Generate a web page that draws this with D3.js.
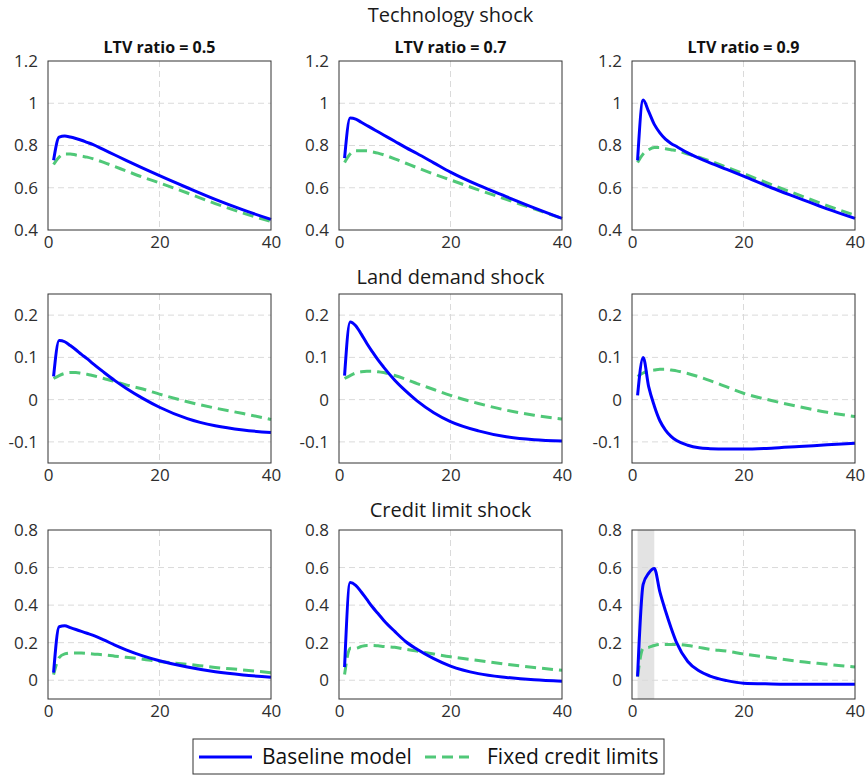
<!DOCTYPE html>
<meta charset="utf-8">
<head>
  <title>Impulse responses by LTV ratio</title>
</head>
<style>
  body {
    margin: 0;
    background: #fff;
    font-family: "Open Sans", sans-serif;
  }
  .grid line {
    stroke: #dadada;
    stroke-width: 1px;
    stroke-dasharray: 6,4;
  }
  .tick text {
    fill: #2e2e2e;
    font-size: 17px;
    font-family: "Open Sans", sans-serif;
  }
  .frame {
    fill: none;
    stroke: #333;
    stroke-width: 1px;
  }
  .base {
    fill: none;
    stroke: #0000ff;
    stroke-width: 3px;
  }
  .fixed {
    fill: none;
    stroke: #50c878;
    stroke-width: 3px;
    stroke-dasharray: 11,6;
  }
</style>
<body>
<script src="https://cdn.jsdelivr.net/npm/d3@7"></script>
<script>
var periods = [1, 2, 3, 4, 5, 6, 7, 8, 10, 12, 14, 17, 20, 25, 30, 35, 40];

var shocks = ["Technology shock", "Land demand shock", "Credit limit shock"];
var ltvLabels = ["LTV ratio = 0.5", "LTV ratio = 0.7", "LTV ratio = 0.9"];

// y ticks per row
var yTicksTech = [0.4, 0.6, 0.8, 1, 1.2];
var yTicksLand = [-0.1, 0, 0.1, 0.2];
var yTicksCredit = [0, 0.2, 0.4, 0.6, 0.8];
var xTicks = [0, 20, 40];

// technology shock
var techBase05  = [0.73, 0.84, 0.845, 0.84, 0.833, 0.825, 0.815, 0.805, 0.78, 0.755, 0.73, 0.693, 0.657, 0.60, 0.545, 0.495, 0.45];
var techFixed05 = [0.71, 0.745, 0.76, 0.76, 0.755, 0.75, 0.745, 0.738, 0.72, 0.70, 0.68, 0.65, 0.623, 0.575, 0.525, 0.48, 0.44];
var techBase07  = [0.74, 0.93, 0.925, 0.91, 0.895, 0.88, 0.865, 0.85, 0.82, 0.79, 0.762, 0.718, 0.674, 0.612, 0.558, 0.505, 0.455];
var techFixed07 = [0.72, 0.76, 0.775, 0.775, 0.775, 0.77, 0.764, 0.756, 0.737, 0.716, 0.695, 0.665, 0.637, 0.59, 0.545, 0.50, 0.455];
var techBase09  = [0.73, 1.015, 0.96, 0.90, 0.86, 0.83, 0.81, 0.795, 0.765, 0.74, 0.718, 0.687, 0.655, 0.60, 0.55, 0.50, 0.455];
var techFixed09 = [0.72, 0.76, 0.78, 0.79, 0.79, 0.785, 0.78, 0.775, 0.76, 0.745, 0.727, 0.697, 0.667, 0.615, 0.565, 0.515, 0.47];

// land demand shock
var landBase05  = [0.055, 0.14, 0.137, 0.128, 0.118, 0.107, 0.097, 0.086, 0.065, 0.045, 0.027, 0.003, -0.018, -0.045, -0.062, -0.072, -0.078];
var landFixed05 = [0.05, 0.057, 0.062, 0.064, 0.064, 0.062, 0.06, 0.057, 0.05, 0.043, 0.035, 0.025, 0.013, -0.005, -0.02, -0.033, -0.047];
var landBase07  = [0.057, 0.184, 0.175, 0.155, 0.133, 0.113, 0.094, 0.077, 0.046, 0.02, -0.003, -0.031, -0.052, -0.074, -0.088, -0.095, -0.098];
var landFixed07 = [0.05, 0.057, 0.063, 0.066, 0.067, 0.067, 0.066, 0.064, 0.057, 0.048, 0.038, 0.024, 0.01, -0.009, -0.025, -0.037, -0.046];
var landBase09  = [0.01, 0.10, 0.03, -0.015, -0.05, -0.072, -0.087, -0.097, -0.108, -0.114, -0.116, -0.117, -0.117, -0.115, -0.111, -0.107, -0.103];
var landFixed09 = [0.055, 0.063, 0.068, 0.07, 0.072, 0.072, 0.07, 0.068, 0.062, 0.054, 0.045, 0.03, 0.015, -0.002, -0.017, -0.03, -0.04];

// credit limit shock
var credBase05  = [0.04, 0.285, 0.29, 0.28, 0.27, 0.26, 0.25, 0.24, 0.215, 0.187, 0.162, 0.13, 0.104, 0.07, 0.045, 0.028, 0.016];
var credFixed05 = [0.03, 0.12, 0.14, 0.145, 0.145, 0.145, 0.143, 0.14, 0.135, 0.128, 0.122, 0.112, 0.10, 0.085, 0.068, 0.055, 0.04];
var credBase07  = [0.07, 0.52, 0.505, 0.47, 0.43, 0.39, 0.355, 0.32, 0.26, 0.205, 0.165, 0.115, 0.075, 0.035, 0.015, 0.002, -0.005];
var credFixed07 = [0.03, 0.17, 0.17, 0.18, 0.185, 0.185, 0.183, 0.18, 0.175, 0.165, 0.155, 0.14, 0.125, 0.105, 0.085, 0.068, 0.053];
var credBase09  = [0.02, 0.51, 0.57, 0.595, 0.47, 0.37, 0.28, 0.20, 0.10, 0.05, 0.022, -0.002, -0.016, -0.02, -0.022, -0.022, -0.022];
var credFixed09 = [0.02, 0.17, 0.175, 0.185, 0.19, 0.19, 0.19, 0.19, 0.185, 0.175, 0.165, 0.155, 0.14, 0.12, 0.10, 0.085, 0.07];

// shaded window in the last panel (periods)
var shadeWindow = [1, 4];

var rows = [
  {domain: [0.4, 1.2], ticks: yTicksTech, base: [techBase05, techBase07, techBase09], fixed: [techFixed05, techFixed07, techFixed09]},
  {domain: [-0.15, 0.25], ticks: yTicksLand, base: [landBase05, landBase07, landBase09], fixed: [landFixed05, landFixed07, landFixed09]},
  {domain: [-0.1, 0.8], ticks: yTicksCredit, base: [credBase05, credBase07, credBase09], fixed: [credFixed05, credFixed07, credFixed09]}
];

var colX = [48, 339, 632],
    rowY = [61, 294, 530],
    titleGap = [39, 10, 13],
    pw = 223,
    ph = 169;

var svg = d3.select("body").append("svg")
    .attr("width", 866)
    .attr("height", 776);

var fmt = function(d) { return String(+d.toFixed(2)); };

rows.forEach(function(row, r) {
  // row title over the middle column
  svg.append("text")
      .attr("x", colX[1] + pw / 2)
      .attr("y", rowY[r] - titleGap[r])
      .attr("text-anchor", "middle")
      .style("font-size", "20px")
      .style("fill", "#1a1a1a")
      .text(shocks[r]);

  for (var c = 0; c < 3; c++) {
    var g = svg.append("g")
        .attr("transform", "translate(" + colX[c] + "," + rowY[r] + ")");

    var x = d3.scaleLinear().domain([0, 40]).range([0, pw]);
    var y = d3.scaleLinear().domain(row.domain).range([ph, 0]);

    if (r === 2 && c === 2) {
      g.append("rect")
          .attr("x", x(shadeWindow[0]))
          .attr("y", 0)
          .attr("width", x(shadeWindow[1]) - x(shadeWindow[0]))
          .attr("height", ph)
          .attr("fill", "#e3e3e3");
    }

    // grid
    g.append("g").attr("class", "grid")
      .selectAll("line").data(row.ticks.filter(function(t) { return t !== row.domain[0] && t !== row.domain[1]; }))
      .enter().append("line")
        .attr("x1", 0).attr("x2", pw)
        .attr("y1", function(d) { return y(d); })
        .attr("y2", function(d) { return y(d); });
    g.append("g").attr("class", "grid")
      .selectAll("line").data([20])
      .enter().append("line")
        .attr("y1", 0).attr("y2", ph)
        .attr("x1", function(d) { return x(d); })
        .attr("x2", function(d) { return x(d); });

    // axes
    var xa = g.append("g")
        .attr("transform", "translate(0," + ph + ")")
        .call(d3.axisBottom(x).tickValues(xTicks).tickSize(0).tickPadding(6).tickFormat(fmt));
    xa.select(".domain").remove();

    var ya = g.append("g")
        .call(d3.axisLeft(y).tickValues(row.ticks).tickSize(0).tickPadding(10).tickFormat(fmt));
    ya.select(".domain").remove();

    // curves
    var line = d3.line()
        .x(function(d, i) { return x(periods[i]); })
        .y(function(d) { return y(d); })
        .curve(d3.curveMonotoneX);

    g.append("path").attr("class", "fixed").attr("d", line(row.fixed[c]));
    g.append("path").attr("class", "base").attr("d", line(row.base[c]));

    g.append("rect").attr("class", "frame")
        .attr("width", pw).attr("height", ph);

    if (r === 0) {
      g.append("text")
          .attr("x", pw / 2)
          .attr("y", -8)
          .attr("text-anchor", "middle")
          .style("font-size", "16px")
          .style("font-weight", "bold")
          .style("fill", "#111")
          .text(ltvLabels[c]);
    }
  }
});

// legend
var lg = svg.append("g").attr("transform", "translate(193,739)");
lg.append("rect")
    .attr("width", 471).attr("height", 35)
    .attr("fill", "#fff").attr("stroke", "#333");
lg.append("line").attr("class", "base")
    .attr("x1", 6).attr("x2", 59).attr("y1", 18).attr("y2", 18);
lg.append("text").attr("x", 69).attr("y", 25)
    .style("font-size", "21px").style("fill", "#111")
    .text("Baseline model");
lg.append("line").attr("class", "fixed")
    .attr("x1", 232).attr("x2", 276).attr("y1", 18).attr("y2", 18);
lg.append("text").attr("x", 294).attr("y", 25)
    .style("font-size", "21px").style("fill", "#111")
    .text("Fixed credit limits");
</script>
</body>
